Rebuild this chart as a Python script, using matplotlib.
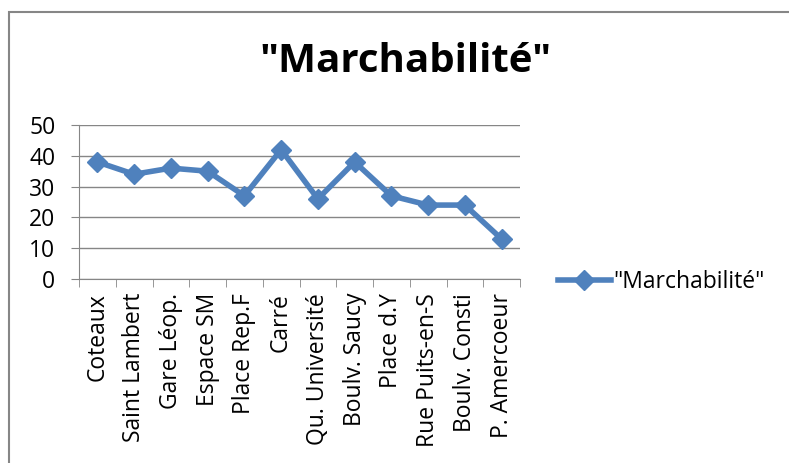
import matplotlib.pyplot as plt
import numpy as np

plt.rcParams['font.family'] = ['Open Sans', 'DejaVu Sans']

places = ['Coteaux', 'Saint Lambert', 'Gare Léop.', 'Espace SM', 'Place Rep.F',
          'Carré', 'Qu. Université', 'Boulv. Saucy', 'Place d.Y',
          'Rue Puits-en-S', 'Boulv. Consti', 'P. Amercoeur']
values = [38, 34, 36, 35, 27, 42, 26, 38, 27, 24, 24, 13]
series_name = '"Marchabilité"'

W, H = 789, 463
fig = plt.figure(figsize=(W / 100, H / 100), dpi=100)
ax = fig.add_axes([79 / W, 1 - 279 / H, 441 / W, 154 / H])

x = np.arange(len(places))
ax.plot(x, values, color='#4F81BD', linewidth=4, marker='D', markersize=10,
        label=series_name)

ax.set_xlim(-0.5, len(places) - 0.5)
ax.set_ylim(0, 50)
ax.set_yticks(range(0, 51, 10))
ax.grid(axis='y', color='#868686', linewidth=1)
ax.set_axisbelow(True)

ax.set_xticks(x)
ax.set_xticklabels(places, rotation=90, fontsize=16.5)
ax.set_xticks(np.arange(-0.5, len(places)), minor=True)
ax.tick_params(axis='x', which='major', length=0, pad=10)
ax.tick_params(axis='x', which='minor', length=6, color='#868686')
ax.tick_params(axis='y', labelsize=16.5, length=6, color='#868686', pad=11)

for side in ['top', 'right']:
    ax.spines[side].set_visible(False)
for side in ['left', 'bottom']:
    ax.spines[side].set_color('#868686')

fig.text(405 / W, 1 - 62 / H, series_name, fontsize=29, fontweight='bold',
         ha='center', va='center')

ax.legend(loc='center left', bbox_to_anchor=((558 - 79) / 441, (279 - 282) / 154),
          frameon=False, fontsize=16.5, handlelength=2.3, handletextpad=0.1,
          borderaxespad=0, borderpad=0)

fig.patches.append(plt.Rectangle((9 / W, -0.1), 1.2, 1.1 - 12 / H,
                                 transform=fig.transFigure, fill=False,
                                 edgecolor='#868686', linewidth=1.5))

fig.savefig('out.png', dpi=100)
